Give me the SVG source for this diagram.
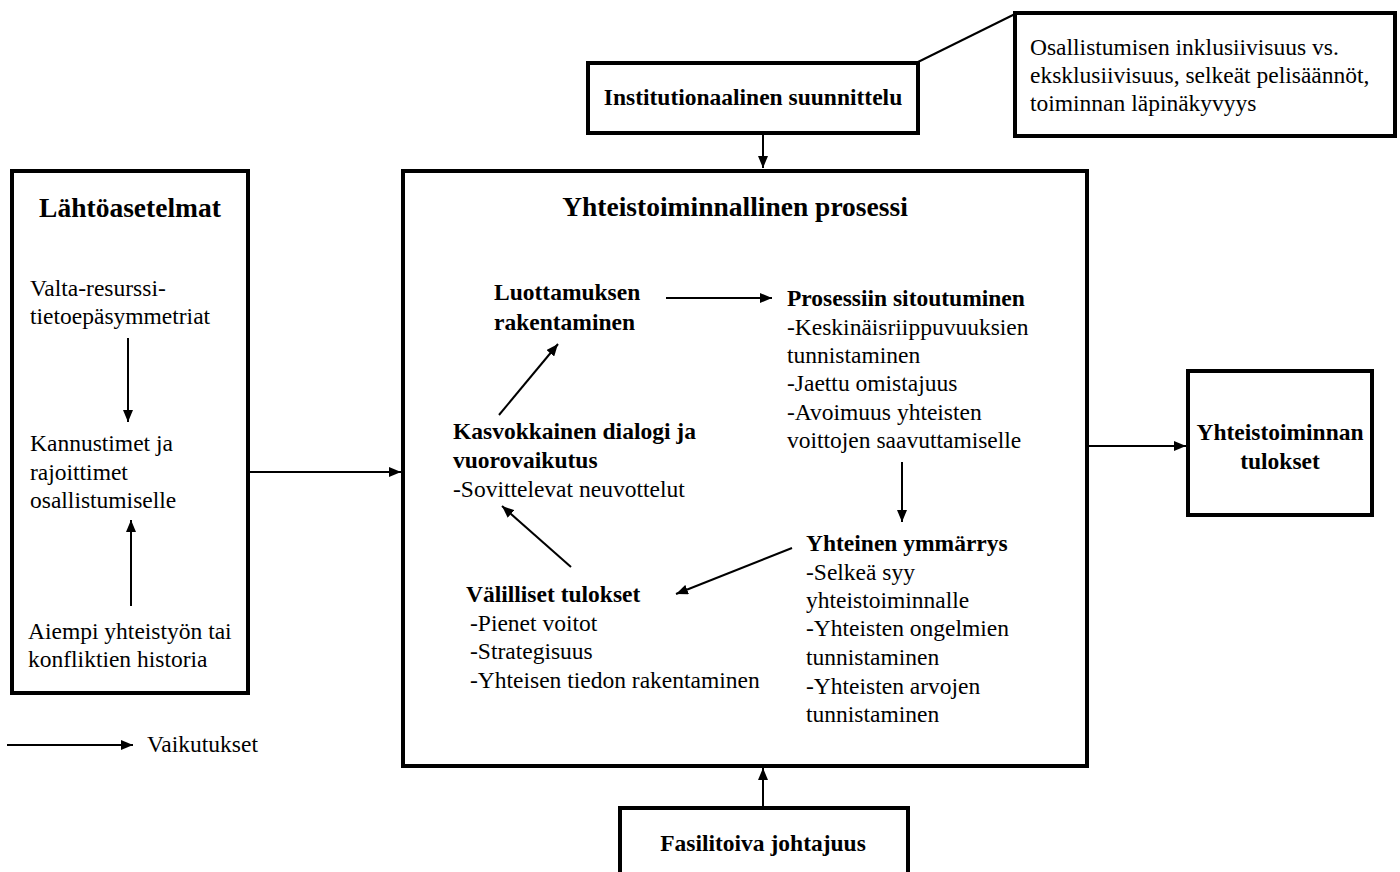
<svg xmlns="http://www.w3.org/2000/svg" width="1400" height="872" viewBox="0 0 1400 872">
<style>
.box{fill:#fff;stroke:#000;stroke-width:4}
.frame{fill:none;stroke:#000;stroke-width:4}
text{font-family:'Liberation Serif','Times New Roman',Times,'DejaVu Serif',serif;fill:#000}
.t{font-size:23.5px}
.b{font-weight:bold}
.title{font-size:27.5px;font-weight:bold}
.c{text-anchor:middle}
.ln{stroke:#000;stroke-width:2;fill:none}
</style>
<defs>
<marker id="ah" markerUnits="userSpaceOnUse" markerWidth="12" markerHeight="10" refX="12" refY="5" orient="auto">
<path d="M0,0 L12,5 L0,10 z" fill="#000"/>
</marker>
</defs>
<rect width="1400" height="872" fill="#fff"/>

<g id="institutionaalinen">
<rect class="box" x="588" y="63" width="330" height="70"/>
<text class="t b c" x="753" y="105">Institutionaalinen suunnittelu</text>
</g>

<g id="note">
<rect class="box" x="1015" y="13" width="380" height="123"/>
<text class="t" x="1030" y="55">Osallistumisen inklusiivisuus vs.</text>
<text class="t" x="1030" y="83">eksklusiivisuus, selkeät pelisäännöt,</text>
<text class="t" x="1030" y="111">toiminnan läpinäkyvyys</text>
</g>

<g id="lahtoasetelmat">
<rect class="box" x="12" y="171" width="236" height="522"/>
<text class="title c" x="130" y="217">Lähtöasetelmat</text>
<text class="t" x="30" y="296">Valta-resurssi-</text>
<text class="t" x="30" y="324">tietoepäsymmetriat</text>
<text class="t" x="30" y="451">Kannustimet ja</text>
<text class="t" x="30" y="480">rajoittimet</text>
<text class="t" x="30" y="508">osallistumiselle</text>
<text class="t" x="28" y="639">Aiempi yhteistyön tai</text>
<text class="t" x="28" y="667">konfliktien historia</text>
</g>

<g id="prosessi">
<rect class="box" x="403" y="171" width="684" height="595"/>
<text class="title c" x="735" y="216">Yhteistoiminnallinen prosessi</text>
</g>

<g id="luottamus">
<text class="t b" x="494" y="300">Luottamuksen</text>
<text class="t b" x="494" y="330">rakentaminen</text>
</g>

<g id="sitoutuminen">
<text class="t b" x="787" y="306">Prosessiin sitoutuminen</text>
<text class="t" x="787" y="335">-Keskinäisriippuvuuksien</text>
<text class="t" x="787" y="363">tunnistaminen</text>
<text class="t" x="787" y="391">-Jaettu omistajuus</text>
<text class="t" x="787" y="420">-Avoimuus yhteisten</text>
<text class="t" x="787" y="448">voittojen saavuttamiselle</text>
</g>

<g id="ymmarrys">
<text class="t b" x="806" y="551">Yhteinen ymmärrys</text>
<text class="t" x="806" y="580">-Selkeä syy</text>
<text class="t" x="806" y="608">yhteistoiminnalle</text>
<text class="t" x="806" y="636">-Yhteisten ongelmien</text>
<text class="t" x="806" y="665">tunnistaminen</text>
<text class="t" x="806" y="694">-Yhteisten arvojen</text>
<text class="t" x="806" y="722">tunnistaminen</text>
</g>

<g id="valilliset">
<text class="t b" x="466" y="602">Välilliset tulokset</text>
<text class="t" x="470" y="631">-Pienet voitot</text>
<text class="t" x="470" y="659">-Strategisuus</text>
<text class="t" x="470" y="688">-Yhteisen tiedon rakentaminen</text>
</g>

<g id="dialogi">
<text class="t b" x="453" y="439">Kasvokkainen dialogi ja</text>
<text class="t b" x="453" y="468">vuorovaikutus</text>
<text class="t" x="453" y="497">-Sovittelevat neuvottelut</text>
</g>

<g id="tulokset">
<rect class="box" x="1188" y="371" width="184" height="144"/>
<text class="t b c" x="1280" y="440">Yhteistoiminnan</text>
<text class="t b c" x="1280" y="469">tulokset</text>
</g>

<g id="fasilitoiva">
<rect class="box" x="620" y="808" width="288" height="80"/>
<text class="t b c" x="763" y="851">Fasilitoiva johtajuus</text>
</g>

<g id="legend">
<text class="t" x="147" y="752">Vaikutukset</text>
</g>

<g id="connectors">
<line class="ln" x1="918" y1="62" x2="1015" y2="14"/>
<line class="ln" x1="763" y1="135" x2="763" y2="168" marker-end="url(#ah)"/>
<line class="ln" x1="763" y1="806" x2="763" y2="768" marker-end="url(#ah)"/>
<line class="ln" x1="250" y1="472" x2="401" y2="472" marker-end="url(#ah)"/>
<line class="ln" x1="1089" y1="446" x2="1186" y2="446" marker-end="url(#ah)"/>
<line class="ln" x1="128" y1="338" x2="128" y2="422" marker-end="url(#ah)"/>
<line class="ln" x1="131" y1="606" x2="131" y2="520" marker-end="url(#ah)"/>
<line class="ln" x1="666" y1="298" x2="772" y2="298" marker-end="url(#ah)"/>
<line class="ln" x1="902" y1="462" x2="902" y2="522" marker-end="url(#ah)"/>
<line class="ln" x1="792" y1="548" x2="676" y2="594" marker-end="url(#ah)"/>
<line class="ln" x1="571" y1="567" x2="502" y2="506" marker-end="url(#ah)"/>
<line class="ln" x1="499" y1="415" x2="558" y2="344" marker-end="url(#ah)"/>
<line class="ln" x1="7" y1="745" x2="133" y2="745" marker-end="url(#ah)"/>
</g>
</svg>
